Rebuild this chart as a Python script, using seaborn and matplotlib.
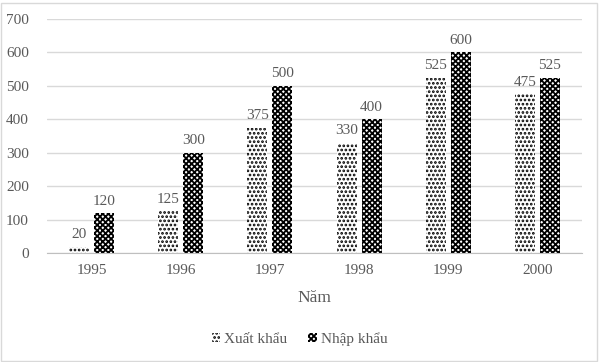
import matplotlib
matplotlib.use("Agg")
import matplotlib.pyplot as plt
import seaborn as sns
import pandas as pd
from matplotlib.patches import Rectangle

years = ["1995", "1996", "1997", "1998", "1999", "2000"]
xuat_khau = [20, 125, 375, 330, 525, 475]
nhap_khau = [120, 300, 500, 400, 600, 525]
series_names = ["Xuất khẩu", "Nhập khẩu"]

df = pd.DataFrame({
    "Năm": years * 2,
    "value": xuat_khau + nhap_khau,
    "series": [series_names[0]] * len(years) + [series_names[1]] * len(years),
})

sns.set_style("white")
plt.rcParams["font.family"] = ["Liberation Serif", "DejaVu Serif"]
plt.rcParams["hatch.linewidth"] = 1.3
text_color = "#595959"

fig = plt.figure(figsize=(5.99, 3.62), dpi=100)
ax = fig.add_axes([47 / 599, 1 - 253.3 / 362, 535 / 599, (253.3 - 19) / 362])

sns.barplot(data=df, x="Năm", y="value", hue="series", ax=ax,
            width=0.56, gap=0.2, palette=["white", "white"],
            edgecolor="black", linewidth=0, legend=False)

hatches = ["....", "xxxxxx"]
for cont, h in zip(ax.containers, hatches):
    for bar in cont:
        bar.set_hatch(h)
        bar.set_edgecolor("black")
        bar.set_linewidth(0)
    ax.bar_label(cont, padding=4, fontsize=11, color=text_color)

ax.set_ylim(0, 700)
ax.set_xlim(-0.5, 5.5)
ax.set_yticks(range(0, 701, 100))
ax.yaxis.grid(True, color="#d9d9d9", linewidth=1)
ax.set_axisbelow(True)
for s in ["top", "right", "left"]:
    ax.spines[s].set_visible(False)
ax.spines["bottom"].set_color("#bfbfbf")
ax.tick_params(axis="both", length=0, labelsize=11, colors=text_color)
ax.tick_params(axis="y", pad=13)
ax.tick_params(axis="x", pad=8)
ax.set_ylabel("")
ax.set_xlabel("Năm", fontsize=12.5, color=text_color, labelpad=9)

handles = []
for name, h in zip(series_names, hatches):
    p = Rectangle((0, 0), 1, 1, facecolor="white", edgecolor="black",
                  linewidth=0, hatch=h, label=name)
    handles.append(p)
leg = fig.legend(handles=handles, loc="center", bbox_to_anchor=(0.5, 1 - 339 / 362),
                 ncol=2, frameon=False, fontsize=11, handlelength=0.55,
                 handleheight=0.55, handletextpad=0.25, columnspacing=1.4)
for t in leg.get_texts():
    t.set_color(text_color)

fig.patches.append(Rectangle((1 / 599, 1 / 362), 596 / 599, 358 / 362,
                             transform=fig.transFigure, fill=False,
                             edgecolor="#d9d9d9", linewidth=1))

fig.savefig("out.png", dpi=100)
